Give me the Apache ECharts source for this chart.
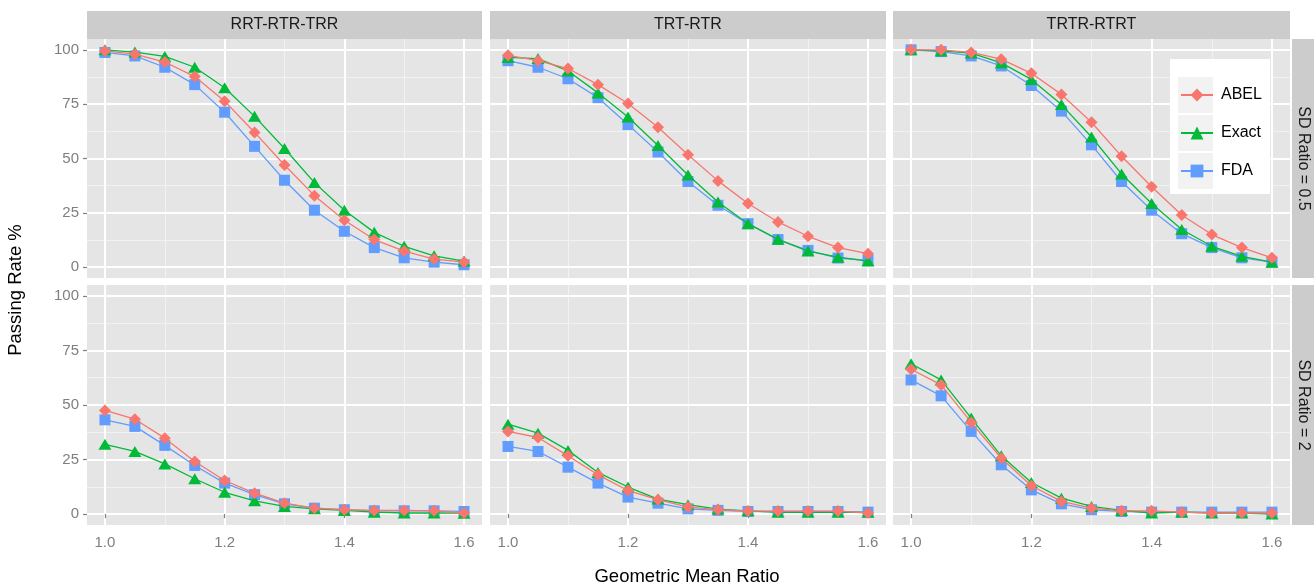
<!DOCTYPE html>
<html>
<head>
<meta charset="utf-8">
<script src="https://cdn.jsdelivr.net/npm/echarts@6/dist/echarts.min.js"></script>
<style>
html,body{margin:0;padding:0;background:#fff;}
#chart{width:1314px;height:587px;}
</style>
</head>
<body>
<div id="chart"></div>
<script>
var xValues = [1.0, 1.05, 1.1, 1.15, 1.2, 1.25, 1.3, 1.35, 1.4, 1.45, 1.5, 1.55, 1.6];
var designs = ['RRT-RTR-TRR', 'TRT-RTR', 'TRTR-RTRT'];
var sdRatios = ['SD Ratio = 0.5', 'SD Ratio = 2'];
var methods = ['ABEL', 'Exact', 'FDA'];
var xTicks = [1.0, 1.2, 1.4, 1.6];
var xMinor = [1.1, 1.3, 1.5];
var yTicks = [0, 25, 50, 75, 100];
var yMinor = [12.5, 37.5, 62.5, 87.5];

// SD ratio = 0.5
var rrtHalfAbel  = [99.5, 98, 94.4, 87.7, 76.4, 62, 47, 32.9, 21.6, 12.7, 7.4, 3.7, 2.3];
var rrtHalfExact = [100, 99, 97, 92, 82.6, 69.4, 54.6, 38.9, 26.2, 16, 9.6, 5.2, 2.8];
var rrtHalfFda   = [98.8, 97.2, 92, 84, 71.3, 55.6, 40, 26.2, 16.5, 9, 4.3, 2.3, 1.1];
var trtHalfAbel  = [97.5, 95, 91.4, 84, 75.3, 64.4, 51.7, 39.7, 29.3, 20.8, 14.2, 9, 6.2];
var trtHalfExact = [96.5, 96, 90.3, 80.2, 69.1, 56, 42.4, 30, 20, 12.8, 7.4, 4.6, 2.8];
var trtHalfFda   = [95, 92, 86.7, 78, 65.6, 53, 39.4, 28.5, 20, 12.7, 7.7, 4.2, 3.1];
var trtrHalfAbel  = [100, 100, 98.8, 95.7, 89.2, 79.5, 66.7, 51, 37, 24, 15, 9, 4.3];
var trtrHalfExact = [100, 99.5, 98.5, 94, 86.4, 74.8, 59.9, 42.9, 29.3, 17.3, 9.6, 5, 2.3];
var trtrHalfFda   = [100, 99.2, 97.2, 92.6, 83.6, 71.8, 56.3, 39.4, 26.2, 15.4, 9, 4.3, 2.3];
// SD ratio = 2
var rrtTwoAbel  = [47.5, 43.5, 34.8, 24.1, 15.4, 9.6, 5, 2.7, 2, 1.7, 1.7, 1.5, 0.5];
var rrtTwoExact = [32, 28.7, 23, 16.2, 10, 6.1, 3.5, 2.4, 1.7, 0.9, 0.5, 0.5, 0.4];
var rrtTwoFda   = [43.2, 40.2, 31.5, 22.3, 14.2, 8.9, 4.7, 2.7, 2, 1.5, 1.5, 1.5, 1.2];
var trtTwoAbel  = [37.9, 35.1, 26.7, 18, 10.8, 6.6, 3.2, 2, 1.4, 1.4, 1.4, 1.4, 0.5];
var trtTwoExact = [41.2, 37.1, 29.2, 19.1, 12.4, 6.9, 4.3, 2.3, 1.5, 0.8, 0.8, 0.8, 0.8];
var trtTwoFda   = [31, 28.7, 21.5, 14.2, 7.8, 5, 2.4, 1.7, 1.2, 1.2, 1.2, 1.2, 0.9];
var trtrTwoAbel  = [66.4, 59.2, 42, 25.6, 13, 5.8, 2.7, 1.5, 1.5, 0.9, 0.5, 0.5, 0.5];
var trtrTwoExact = [68.9, 61.5, 44, 26.7, 14.5, 7.3, 3.5, 1.7, 0.5, 0.9, 0.5, 0.5, 0];
var trtrTwoFda   = [61.5, 54.2, 37.9, 22.6, 11.1, 4.7, 2, 1.2, 0.9, 0.9, 0.9, 0.9, 0.9];

// panel order: row (sd ratio) then column (design); each = [ABEL, Exact, FDA]
var panelData = [
	[rrtHalfAbel, rrtHalfExact, rrtHalfFda],
	[trtHalfAbel, trtHalfExact, trtHalfFda],
	[trtrHalfAbel, trtrHalfExact, trtrHalfFda],
	[rrtTwoAbel, rrtTwoExact, rrtTwoFda],
	[trtTwoAbel, trtTwoExact, trtTwoFda],
	[trtrTwoAbel, trtrTwoExact, trtrTwoFda]
];

var colors = ['#F8766D', '#00BA38', '#619CFF'];
var symbols = ['diamond', 'triangle', 'rect'];
var symbolSizes = [[12, 12], [13, 11], [11, 11]];
var font = '"Liberation Sans", Arial, sans-serif';

var colLeft = [87, 490, 893];
var colWidth = [395, 396, 397];
var rowTop = [39, 285];
var rowHeight = [239, 240];

var grids = [], xAxes = [], yAxes = [], series = [], graphics = [];

for (var r = 0; r < 2; r++) {
	for (var c = 0; c < 3; c++) {
		var g = r * 3 + c;
		grids.push({
			left: colLeft[c], top: rowTop[r], width: colWidth[c], height: rowHeight[r],
			show: true, backgroundColor: '#E5E5E5', borderWidth: 0
		});
		// minor grid lines
		xAxes.push({
			gridIndex: g, type: 'value', position: 'bottom', min: 0.97, max: 1.63, z: 1,
			axisLine: {show: false},
			axisTick: {show: false, customValues: xMinor},
			axisLabel: {show: false, customValues: xMinor},
			splitLine: {show: true, lineStyle: {color: '#F2F2F2', width: 1}}
		});
		yAxes.push({
			gridIndex: g, type: 'value', position: 'left', min: -5, max: 105, z: 1,
			axisLine: {show: false},
			axisTick: {show: false, customValues: yMinor},
			axisLabel: {show: false, customValues: yMinor},
			splitLine: {show: true, lineStyle: {color: '#F2F2F2', width: 1}}
		});
		// major axes
		xAxes.push({
			gridIndex: g, type: 'value', position: 'bottom', min: 0.97, max: 1.63, z: 2,
			axisLine: {show: false},
			axisTick: {show: r == 1, customValues: xTicks, length: 4, lineStyle: {color: '#7F7F7F', width: 1.2}},
			axisLabel: {
				show: r == 1, customValues: xTicks, margin: 10,
				color: '#7F7F7F', fontSize: 15, fontFamily: font,
				formatter: function (v) { return v.toFixed(1); }
			},
			splitLine: {show: true, lineStyle: {color: '#FFFFFF', width: 2}}
		});
		yAxes.push({
			gridIndex: g, type: 'value', position: 'left', min: -5, max: 105, z: 2,
			axisLine: {show: false},
			axisTick: {show: c == 0, customValues: yTicks, length: 4, lineStyle: {color: '#7F7F7F', width: 1.2}},
			axisLabel: {
				show: c == 0, customValues: yTicks, margin: 8,
				color: '#7F7F7F', fontSize: 15, fontFamily: font
			},
			splitLine: {show: true, lineStyle: {color: '#FFFFFF', width: 2}}
		});
		for (var m = 0; m < 3; m++) {
			var vals = panelData[g][m];
			var pts = [];
			for (var i = 0; i < xValues.length; i++) pts.push([xValues[i], vals[i]]);
			series.push({
				name: methods[m], type: 'line',
				xAxisIndex: 2 * g + 1, yAxisIndex: 2 * g + 1,
				data: pts,
				symbol: symbols[m], symbolSize: symbolSizes[m],
				showAllSymbol: true,
				z: 7 - m,
				lineStyle: {color: colors[m], width: 1.3},
				itemStyle: {color: colors[m]},
				emphasis: {disabled: true},
				animation: false
			});
		}
	}
}

// strips on top
for (var c2 = 0; c2 < 3; c2++) {
	graphics.push({
		type: 'rect', z: 10,
		shape: {x: colLeft[c2], y: 11, width: colWidth[c2], height: 28},
		style: {fill: '#CCCCCC'}
	});
	graphics.push({
		type: 'text', z: 11,
		x: colLeft[c2] + colWidth[c2] / 2, y: 25,
		style: {text: designs[c2], fill: '#1A1A1A', font: '16px ' + font, textAlign: 'center', textVerticalAlign: 'middle'}
	});
}
// strips on the right
for (var r2 = 0; r2 < 2; r2++) {
	graphics.push({
		type: 'rect', z: 10,
		shape: {x: 1292, y: rowTop[r2], width: 22, height: rowHeight[r2]},
		style: {fill: '#CCCCCC'}
	});
	graphics.push({
		type: 'text', z: 11,
		x: 1303, y: rowTop[r2] + rowHeight[r2] / 2, rotation: -Math.PI / 2,
		style: {text: sdRatios[r2], fill: '#1A1A1A', font: '16px ' + font, textAlign: 'center', textVerticalAlign: 'middle'}
	});
}
// axis titles
graphics.push({
	type: 'text', z: 11, x: 687, y: 577,
	style: {text: 'Geometric Mean Ratio', fill: '#000', font: '18.5px ' + font, textAlign: 'center', textVerticalAlign: 'middle'}
});
graphics.push({
	type: 'text', z: 11, x: 16, y: 290, rotation: Math.PI / 2,
	style: {text: 'Passing Rate %', fill: '#000', font: '18.5px ' + font, textAlign: 'center', textVerticalAlign: 'middle'}
});
// legend box and key backgrounds
graphics.push({
	type: 'rect', z: 20,
	shape: {x: 1170, y: 59, width: 100, height: 135},
	style: {fill: '#FFFFFF'}
});
var keyTops = [77, 115, 153];
for (var k = 0; k < 3; k++) {
	graphics.push({
		type: 'rect', z: 21,
		shape: {x: 1178, y: keyTops[k], width: 35, height: 36},
		style: {fill: '#F2F2F2'}
	});
}

var chart = echarts.init(document.getElementById('chart'));
var option = {
	animation: false,
	backgroundColor: '#FFFFFF',
	grid: grids,
	xAxis: xAxes,
	yAxis: yAxes,
	series: series,
	graphic: {elements: graphics},
	legend: {
		data: methods,
		orient: 'vertical',
		left: 1180, top: 87,
		padding: 0,
		itemWidth: 32, itemHeight: 16, itemGap: 22,
		z: 30,
		selectedMode: false,
		textStyle: {color: '#000', fontSize: 16, fontFamily: font, lineHeight: 16, padding: [0, 0, 0, 3]}
	}
};
chart.setOption(option);
</script>
</body>
</html>
